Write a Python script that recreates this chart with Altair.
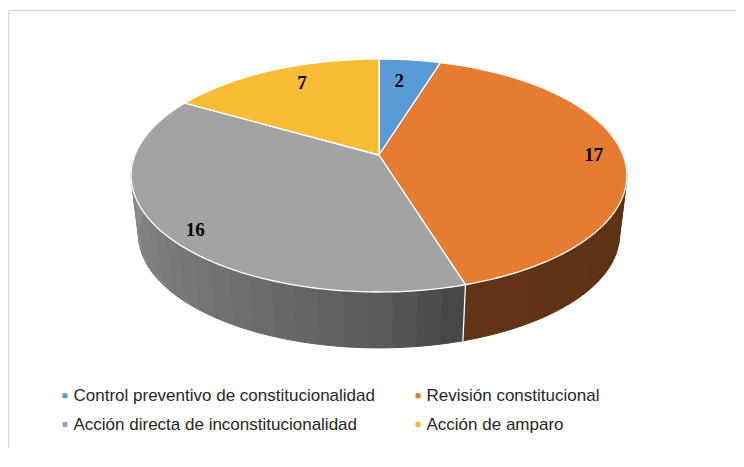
import numpy as np
import pandas as pd
import altair as alt

# ---------------- data ----------------
CATEGORIES = [
    "Control preventivo de constitucionalidad",
    "Revisión constitucional",
    "Acción directa de inconstitucionalidad",
    "Acción de amparo",
]
VALUES = [2, 17, 16, 7]
LABELS = ["2", "17", "16", "7"]
COLORS = ["#5b9bd5", "#e67c32", "#a3a3a3", "#f6bd35"]

# ---------------- layout / style (svg pixel space) ----------------
CX, CY = 371.0, 147.0          # apex of the pie in the svg
B, A, P = 244.0, 112.9, 0.176  # horizontal radius, vertical radius, perspective
DEPTH, SHRINK = 60.0, 0.97     # thickness of the disc, shrink of the bottom rim
LABEL_R = [0.75, 0.88, 0.90, 0.80]      # radial placement of data labels
LABEL_DA = [-1.4, 0.0, -2.9, 3.6]       # angular nudge of data labels (deg)
SHADE_ANG = [90, 163, 180, 200, 230, 270]
SHADE_F = [0.40, 0.42, 0.55, 0.64, 0.75, 0.86]


def proj(theta_deg, r=1.0, bottom=False):
    t = np.radians(theta_deg)
    X, Z = r * np.sin(t), r * np.cos(t)
    d = 1 + P * Z
    s = SHRINK if bottom else 1.0
    x = CX + s * B * X / d
    y = CY + (DEPTH if bottom else 0.0) - s * A * Z / d
    return [float(x), float(y)]


def shade(hexcol, f):
    h = hexcol.lstrip("#")
    rgb = [int(h[i:i + 2], 16) for i in (0, 2, 4)]
    return "#" + "".join(f"{min(255, int(round(c * f))):02x}" for c in rgb)


total = sum(VALUES)
bounds = np.concatenate([[0], np.cumsum(VALUES)]) / total * 360.0

top_feats, side_feats, edge_feats, label_rows = [], [], [], []
for i, (cat, v) in enumerate(zip(CATEGORIES, VALUES)):
    a0, a1 = bounds[i], bounds[i + 1]
    n = max(2, int(np.ceil(a1 - a0)))
    ring = [[CX, CY]] + [proj(a) for a in np.linspace(a0, a1, n + 1)] + [[CX, CY]]
    top_feats.append({"type": "Feature",
                      "geometry": {"type": "Polygon", "coordinates": [ring]},
                      "properties": {"cat": cat, "value": v}})
    # visible side of the slice
    s0, s1 = max(a0, 90.0), min(a1, 270.0)
    if s1 > s0:
        m = max(1, int(np.ceil((s1 - s0) / 5.0)))
        angs = np.linspace(s0, s1, m + 1)
        for k in range(m):
            t0, t1 = angs[k], angs[k + 1]
            tm = (t0 + t1) / 2
            col = shade(COLORS[i], float(np.interp(tm, SHADE_ANG, SHADE_F)))
            sub = np.linspace(t0, t1, 4)
            quad = ([proj(t) for t in sub] + [proj(t, bottom=True) for t in sub[::-1]])
            quad.append(quad[0])
            side_feats.append({"type": "Feature",
                               "geometry": {"type": "Polygon", "coordinates": [quad]},
                               "properties": {"shade": col}})
    mid = (a0 + a1) / 2 + LABEL_DA[i]
    lx, ly = proj(mid, LABEL_R[i])
    label_rows.append({"lon": lx, "lat": ly, "txt": LABELS[i]})

for b in bounds[1:-1]:
    if 95 < b < 265:
        edge_feats.append({"type": "Feature",
                           "geometry": {"type": "LineString",
                                        "coordinates": [proj(b), proj(b, bottom=True)]},
                           "properties": {}})

PROJ = dict(type="identity", scale=1, translate=[0, 0])

side = alt.Chart(alt.Data(values=side_feats)).mark_geoshape(strokeWidth=1.0).encode(
    fill=alt.Fill("properties.shade:N", scale=None),
    stroke=alt.Stroke("properties.shade:N", scale=None),
).project(**PROJ)

edges = alt.Chart(alt.Data(values=edge_feats)).mark_geoshape(
    filled=False, stroke="white", strokeWidth=1.3
).project(**PROJ)

top = alt.Chart(alt.Data(values=top_feats)).mark_geoshape(
    stroke="white", strokeWidth=1.3
).encode(
    color=alt.Color(
        "properties.cat:N",
        scale=alt.Scale(domain=CATEGORIES, range=COLORS),
        legend=alt.Legend(
            title=None, orient="none", legendX=48.5, legendY=379, columns=2,
            direction="horizontal",
            symbolType="square", symbolSize=25, symbolStrokeWidth=0,
            labelFont="Liberation Sans", labelFontSize=17, labelColor="#262626",
            columnPadding=34, rowPadding=11, labelOffset=0, labelLimit=0,
        ),
    )
).project(**PROJ)

labels = alt.Chart(pd.DataFrame(label_rows)).mark_text(
    font="Liberation Serif", fontSize=19, fontWeight="bold", color="black"
).encode(longitude="lon:Q", latitude="lat:Q", text="txt:N").project(**PROJ)

frame_top = alt.Chart(pd.DataFrame({"a": [0]})).mark_rule(
    color="#d9d9d9", strokeWidth=1.5
).encode(x=alt.value(0.5), x2=alt.value(760), y=alt.value(2.5))
frame_left = alt.Chart(pd.DataFrame({"a": [0]})).mark_rule(
    color="#d9d9d9", strokeWidth=1.5
).encode(x=alt.value(0.5), y=alt.value(2.5), y2=alt.value(470))

chart = alt.layer(side, edges, top, labels, frame_top, frame_left).properties(
    width=728, height=440, padding=0,
    autosize=alt.AutoSizeParams(type="none"),
).configure_view(stroke=None)

chart.save("out.html", embed_options={"renderer": "svg", "actions": False})
